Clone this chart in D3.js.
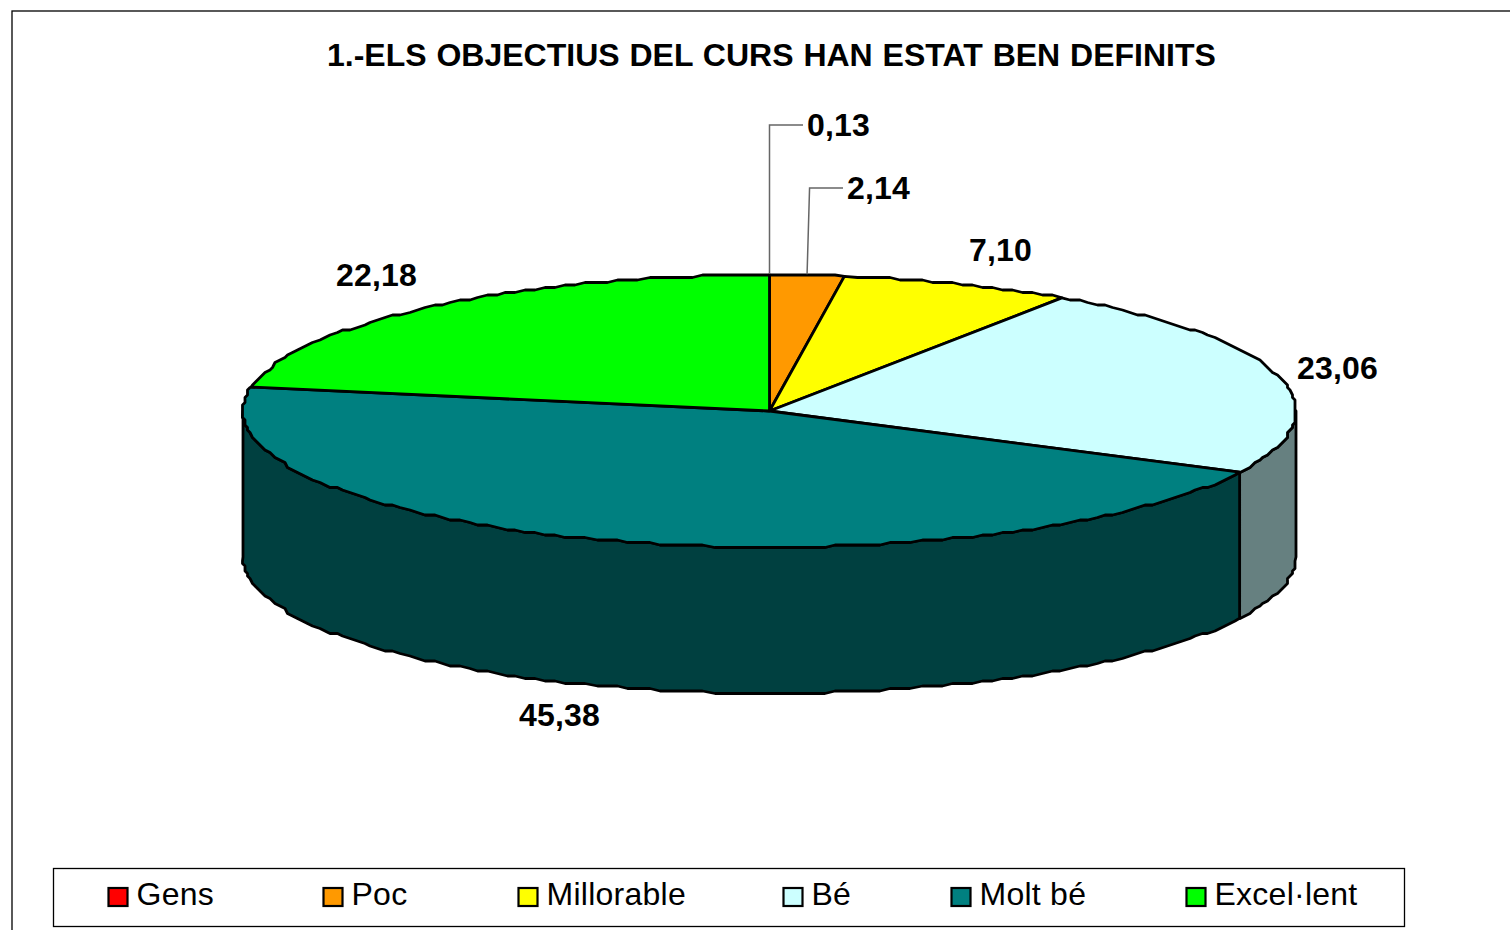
<!DOCTYPE html>
<html>
<head>
<meta charset="utf-8">
<script src="https://cdn.jsdelivr.net/npm/d3@7"></script>
<style>
  html, body { margin: 0; padding: 0; background: #fff; overflow: hidden; }
  text { font-family: "Liberation Sans", Arial, sans-serif; fill: #000; }
</style>
</head>
<body>
<div id="chart-area"></div>
<script>
var titleText = "1.-ELS OBJECTIUS DEL CURS HAN ESTAT BEN DEFINITS";
var categories = ["Gens", "Poc", "Millorable", "Bé", "Molt bé", "Excel·lent"];
var values = [0.13, 2.14, 7.10, 23.06, 45.38, 22.18];

var colors = ["#ff0000", "#ff9900", "#ffff00", "#ccffff", "#008080", "#00ff00"];
var legendX = [108, 323, 518, 783, 951, 1186];
// left edge and baseline of each value label
var labelX = [807, 847, 969, 1297, 519, 336];
var labelY = [136, 199, 261, 379, 726, 286];
// corner of the leader line, only the two small slices have one
var leaderY = [125, 188];

var width = 1510, height = 930;
var cx = 769.5, cy = 411, rx = 526.5, ry = 136, depth = 146;
var edge = 2.8;
// the reference outline is a coarse polyline, keep the same stepped look
var step = 2 * Math.PI / 300, snap = 2.5;

var svg = d3.select("#chart-area").append("svg")
            .attr("width", width)
            .attr("height", height)
            .style("display", "block");

// outer frame runs off the right and bottom of the page
svg.append("rect")
    .attr("x", 12).attr("y", 11)
    .attr("width", width).attr("height", height)
    .attr("fill", "#fff")
    .attr("stroke", "#000")
    .attr("stroke-width", 1.3);

svg.append("text")
    .attr("x", 327).attr("y", 66)
    .attr("font-size", 32)
    .attr("font-weight", "bold")
    .attr("word-spacing", 1)
    .text(titleText);

var pie = d3.pie().sort(null).value((d) => { return d; });
var slices = pie(values);

var rim = (a) => { return [cx + rx * Math.sin(a), cy - ry * Math.cos(a)]; };
var snapped = (p) => { return p.map((v) => { return Math.round(v / snap) * snap; }); };

// points along the rim from a0 to a1, ends exact and the ones between on the grid
var rimPoints = (a0, a1) => {
    var mids = d3.range(Math.ceil(a0 / step + 0.2), a1 / step - 0.2).map((k) => { return snapped(rim(k * step)); });
    return [rim(a0)].concat(mids, [rim(a1)]);
};

var line = d3.line();

var halfColor = (c) => {
    var k = d3.rgb(c);
    return d3.rgb(k.r / 2, k.g / 2, k.b / 2).formatHex();
};

// side walls, only the front half of the disc is seen
var front = slices.filter((d) => { return d.endAngle > Math.PI / 2 && d.startAngle < 3 * Math.PI / 2; });
svg.selectAll("path.side")
    .data(front)
    .enter()
    .append("path")
        .attr("class", "side")
        .attr("fill", (d) => { return halfColor(colors[d.index]); })
        .attr("stroke", "#000")
        .attr("stroke-width", edge)
        .attr("stroke-linejoin", "round")
        .attr("d", (d) => {
            var top = rimPoints(Math.max(d.startAngle, Math.PI / 2), Math.min(d.endAngle, 3 * Math.PI / 2));
            var bottom = top.map((p) => { return [p[0], p[1] + depth]; }).reverse();
            return line(top.concat(bottom)) + "Z";
        });

// the reference shows no red sliver: the 0,13 slice is only a line, Poc starts at 12 o'clock
svg.selectAll("path.top")
    .data(slices.filter((d) => { return d.index != 0; }))
    .enter()
    .append("path")
        .attr("class", "top")
        .attr("fill", (d) => { return colors[d.index]; })
        .attr("stroke", "#000")
        .attr("stroke-width", edge)
        .attr("stroke-linejoin", "round")
        .attr("d", (d) => {
            var a0 = d.index == 1 ? 0 : d.startAngle;
            return line([[cx, cy]].concat(rimPoints(a0, d.endAngle))) + "Z";
        });

// leader lines for Gens and Poc
slices.slice(0, 2).forEach((d, i) => {
    var foot = rim(i == 0 ? 0 : (d.startAngle + d.endAngle) / 2 - 0.004);
    svg.append("path")
        .attr("fill", "none")
        .attr("stroke", "#666")
        .attr("stroke-width", 1.5)
        .attr("d", line([
            [foot[0], foot[1] - 1],
            [foot[0] + (i == 0 ? 0 : 2.5), leaderY[i]],
            [labelX[i] - 4, leaderY[i]]
        ]));
});

var fmt = d3.formatLocale({ decimal: ",", thousands: ".", grouping: [3], currency: ["", ""] }).format(".2f");

svg.selectAll("text.val")
    .data(values)
    .enter()
    .append("text")
        .attr("class", "val")
        .attr("x", (d, i) => { return labelX[i]; })
        .attr("y", (d, i) => { return labelY[i]; })
        .attr("font-size", 32)
        .attr("font-weight", "bold")
        .attr("letter-spacing", 0.2)
        .text((d) => { return fmt(d); });

// legend
svg.append("rect")
    .attr("x", 53.5).attr("y", 868.5)
    .attr("width", 1351).attr("height", 58)
    .attr("fill", "#fff")
    .attr("stroke", "#000")
    .attr("stroke-width", 1.3);

var legend = svg.selectAll("g.legend")
                .data(categories)
                .enter()
                .append("g")
                    .attr("class", "legend")
                    .attr("transform", (d, i) => { return "translate(" + legendX[i] + ",0)"; });

legend.append("rect")
    .attr("x", 0.5).attr("y", 888)
    .attr("width", 19).attr("height", 18)
    .attr("fill", (d, i) => { return colors[i]; })
    .attr("stroke", "#000")
    .attr("stroke-width", 2.2);

legend.append("text")
    .attr("x", 28.5).attr("y", 905)
    .attr("font-size", 32)
    .attr("letter-spacing", 0.25)
    .text((d) => { return d; });
</script>
</body>
</html>
